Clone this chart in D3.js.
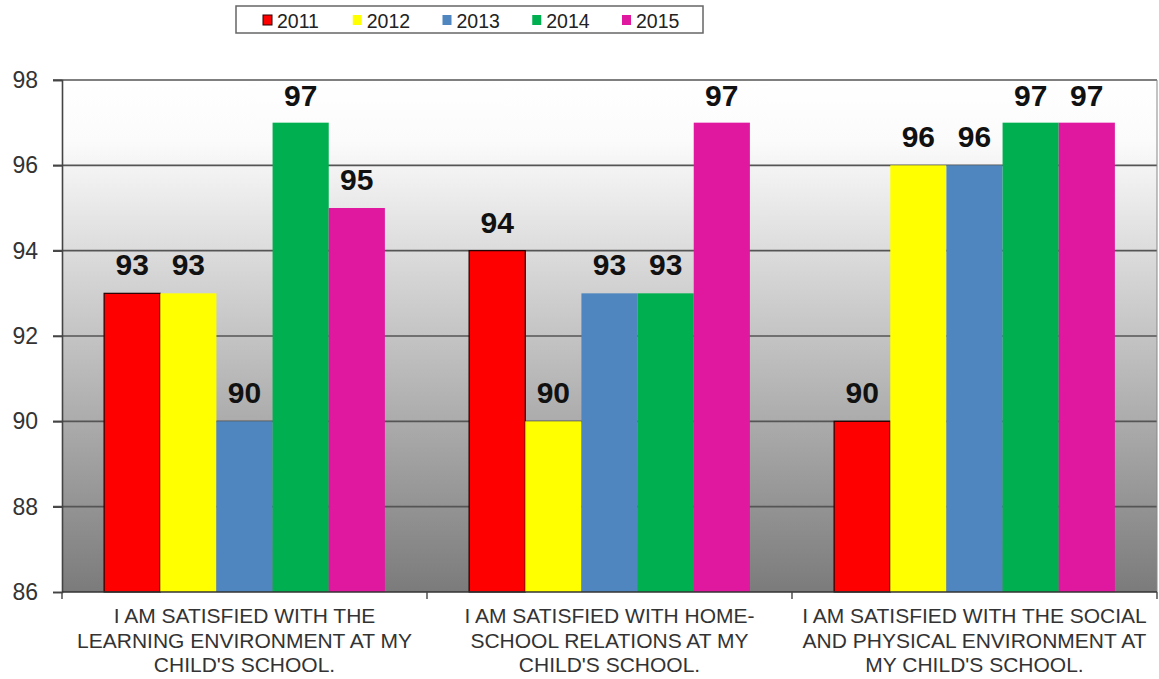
<!DOCTYPE html>
<html><head><meta charset="utf-8">
<script src="https://cdn.jsdelivr.net/npm/d3@7/dist/d3.min.js"></script>
<style>
html,body{margin:0;padding:0;background:#fff;}
svg{display:block;font-family:"Liberation Sans",Arial,sans-serif;}
</style></head>
<body>
<svg id="chart" width="1159" height="679"></svg>
<script>
const categories = [
  ["I AM SATISFIED WITH THE","LEARNING ENVIRONMENT AT MY","CHILD'S SCHOOL."],
  ["I AM SATISFIED WITH HOME-","SCHOOL RELATIONS AT MY","CHILD'S SCHOOL."],
  ["I AM SATISFIED WITH THE SOCIAL","AND PHYSICAL ENVIRONMENT AT","MY CHILD'S SCHOOL."]
];
const series = ["2011","2012","2013","2014","2015"];
const v2011 = [93, 94, 90];
const v2012 = [93, 90, 96];
const v2013 = [90, 93, 96];
const v2014 = [97, 93, 97];
const v2015 = [95, 97, 97];
const yTicks = [86, 88, 90, 92, 94, 96, 98];
const colors = ["#ff0000", "#ffff00", "#4f86bf", "#00b050", "#e0179f"];

const values = [v2011, v2012, v2013, v2014, v2015];
const svg = d3.select("#chart");
const m = {left: 62, right: 1157, top: 80, bottom: 592};

const x0 = d3.scaleBand().domain(d3.range(categories.length)).range([m.left, m.right]).paddingInner(0).paddingOuter(0);
const x1 = d3.scaleBand().domain(series).range([0, x0.bandwidth()]).paddingOuter(0.75).paddingInner(0);
const y = d3.scaleLinear().domain([86, 98]).range([m.bottom, m.top]);

// background gradient
const defs = svg.append("defs");
const g = defs.append("linearGradient").attr("id","bg").attr("x1",0).attr("y1",0).attr("x2",0).attr("y2",1);
g.append("stop").attr("offset","0%").attr("stop-color","#ffffff");
g.append("stop").attr("offset","12%").attr("stop-color","#fbfbfb");
g.append("stop").attr("offset","100%").attr("stop-color","#7b7b7b");
svg.append("rect").attr("x", m.left).attr("y", m.top).attr("width", m.right - m.left).attr("height", m.bottom - m.top).attr("fill","url(#bg)");

// gridlines
svg.append("g").selectAll("line").data(yTicks.filter(t => t > 86)).join("line")
  .attr("x1", m.left - 9).attr("x2", m.right)
  .attr("y1", d => y(d)).attr("y2", d => y(d))
  .attr("stroke", "#555").attr("stroke-width", 1.6);
svg.append("line").attr("x1", m.right).attr("x2", m.right).attr("y1", m.top).attr("y2", m.bottom).attr("stroke","#888").attr("stroke-width",1);

// bars
const groups = svg.append("g").selectAll("g").data(categories).join("g")
  .attr("transform", (d,i) => `translate(${x0(i)},0)`);
groups.selectAll("rect").data((d,i) => series.map((s,k) => ({s, k, v: values[k][i]}))).join("rect")
  .attr("x", d => x1(d.s)).attr("width", x1.bandwidth())
  .attr("y", d => y(d.v)).attr("height", d => y(86) - y(d.v))
  .attr("fill", d => colors[d.k])
  .attr("stroke", d => d.k === 0 ? "#200" : "none").attr("stroke-width", 1.2);

// value labels
groups.selectAll("text").data((d,i) => series.map((s,k) => ({s, k, v: values[k][i]}))).join("text")
  .attr("x", d => x1(d.s) + x1.bandwidth()/2)
  .attr("y", d => Math.max(y(d.v) - 18, 106))
  .attr("text-anchor","middle")
  .attr("font-size", 30).attr("font-weight","bold").attr("fill","#111")
  .text(d => d.v);

// y axis
const yAxis = d3.axisLeft(y).tickValues(yTicks).tickSize(9).tickPadding(15).tickFormat(d3.format("d"));
const ya = svg.append("g").attr("transform", `translate(${m.left},0)`).call(yAxis);
ya.select(".domain").attr("stroke","#444").attr("stroke-width",1.6);
ya.selectAll(".tick line").attr("stroke","#444").attr("stroke-width",1.6);
ya.selectAll(".tick text").attr("font-size", 23).attr("fill","#333").attr("font-family","Liberation Sans, Arial, sans-serif");

// x axis
const xa = svg.append("g").attr("transform", `translate(0,${m.bottom})`);
xa.append("line").attr("x1", m.left).attr("x2", m.right).attr("stroke","#333").attr("stroke-width",1.6);
xa.selectAll("line.t").data(d3.range(categories.length + 1)).join("line").attr("class","t")
  .attr("x1", i => m.left + i * x0.bandwidth()).attr("x2", i => m.left + i * x0.bandwidth())
  .attr("y1", 0).attr("y2", 7).attr("stroke","#444").attr("stroke-width",1.4);
categories.forEach((lines, i) => {
  const t = xa.append("text").attr("text-anchor","middle")
    .attr("font-size", 21).attr("fill","#333");
  lines.forEach((l, j) => t.append("tspan").attr("x", x0(i) + x0.bandwidth()/2).attr("y", 31 + j*24.5).text(l));
});

// legend
const leg = svg.append("g");
leg.append("rect").attr("x", 236).attr("y", 6).attr("width", 467).attr("height", 27)
  .attr("fill","#fff").attr("stroke","#666").attr("stroke-width",1.5);
const legX = d3.scalePoint().domain(series).range([263, 622]);
const li = leg.selectAll("g").data(series).join("g").attr("transform", d => `translate(${legX(d)},0)`);
li.append("rect").attr("x", 0).attr("y", 15).attr("width", 9).attr("height", 10)
  .attr("fill", (d,k) => colors[k]).attr("stroke", (d,k) => k === 0 ? "#300" : "none");
li.append("text").attr("x", 14).attr("y", 27.5).attr("font-size", 19.5).attr("fill","#222").text(d => d);
</script>
</body></html>
